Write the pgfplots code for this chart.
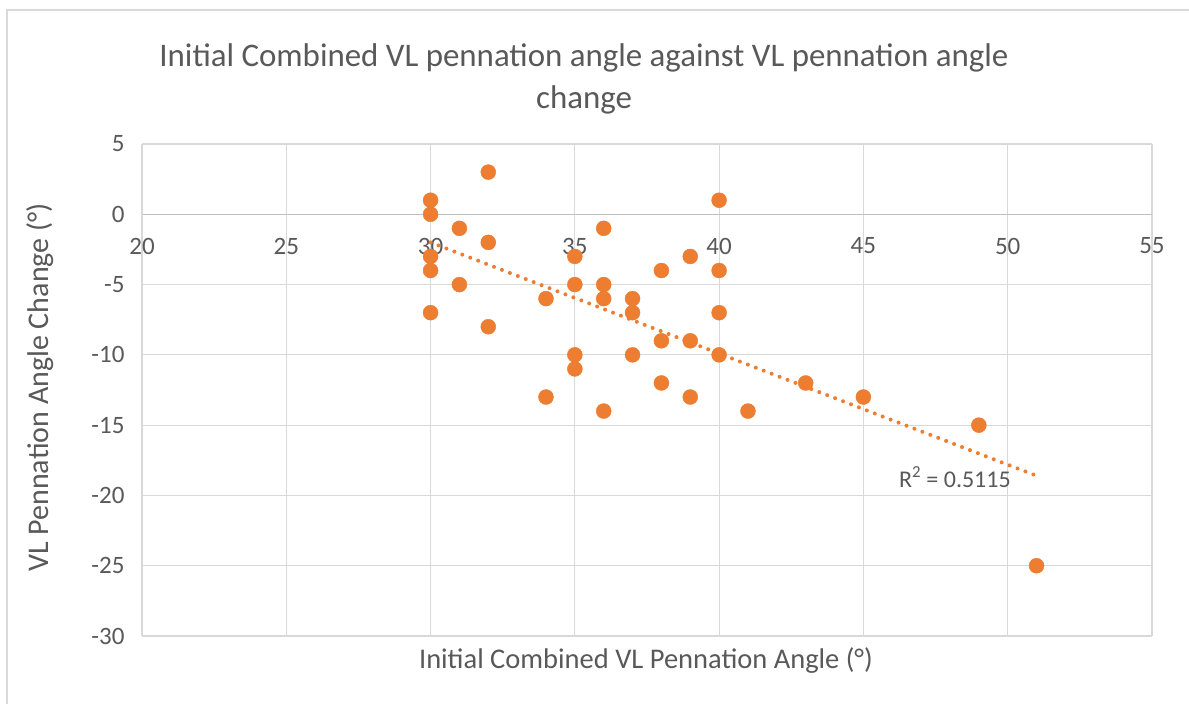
\documentclass[border=0pt]{standalone}
\usepackage{pgfplots}
\pgfplotsset{compat=1.18}
\usepackage{fontspec}
\setmainfont{Carlito}
\definecolor{txt}{HTML}{595959}
\definecolor{grd}{HTML}{D9D9D9}
\definecolor{axl}{HTML}{BFBFBF}
\definecolor{org}{HTML}{ED7D31}
\begin{document}
\begin{tikzpicture}[x=1pt,y=1pt]
\useasboundingbox[fill=white] (0,0) rectangle (1189,704);
\draw[color=grd, line width=1.5pt] (7,0) -- (7,694) -- (1189,694);
\node[text=txt, font=\fontsize{32.9}{42}\selectfont, align=center] at (584,625)
  {Initial Combined VL pennation angle against VL pennation angle\\change};
\node[text=txt, font=\fontsize{28.5}{28.5}\selectfont] at (646,43)
  {Initial Combined VL Pennation Angle (°)};
\node[text=txt, font=\fontsize{30}{30}\selectfont, rotate=90] at (40,316.5)
  {VL Pennation Angle Change (°)};
\begin{axis}[
  at={(142pt,68pt)}, anchor=south west,
  scale only axis, width=1010pt, height=492pt,
  xmin=20, xmax=55, ymin=-30, ymax=5,
  xtick={20,25,30,35,40,45,50,55},
  xticklabels={20,25,30,35,40,45,50,55},
  ytick={-30,-25,-20,-15,-10,-5,0,5},
  yticklabels={-30,-25,-20,-15,-10,-5,0,5},
  axis x line=middle, axis y line=left,
  hide obscured x ticks=false, hide obscured y ticks=false,
  x axis line style={draw=axl, line width=1.2pt, -},
  y axis line style={draw=grd, line width=1.2pt, -},
  grid=major, major grid style={draw=grd, line width=1.2pt},
  major tick length=0pt,
  tick label style={font=\fontsize{25}{25}\selectfont, text=txt},
  xticklabel style={yshift=-20pt},
  yticklabel style={xshift=-14pt},
  clip=false,
]
\addplot[only marks, mark=*, mark size=7.5pt, color=org, mark options={fill=org, draw=none}] coordinates {
(30,1) (30,0) (30,-3) (30,-4) (30,-7)
(31,-1) (31,-5)
(32,3) (32,-2) (32,-8)
(34,-6) (34,-13)
(35,-3) (35,-5) (35,-10) (35,-11)
(36,-1) (36,-5) (36,-6) (36,-14)
(37,-6) (37,-7) (37,-10)
(38,-4) (38,-9) (38,-12)
(39,-3) (39,-9) (39,-13)
(40,1) (40,-4) (40,-7) (40,-10)
(41,-14) (43,-12) (45,-13) (49,-15) (51,-25)
};
\addplot[org, line width=4pt, dash pattern=on 0pt off 8.5pt, line cap=round] coordinates {(30,-2.0) (51,-18.6)};
\node[text=txt, font=\fontsize{24}{24}\selectfont] at (axis cs:48.17,-18.7) {R\textsuperscript{2} = 0.5115};
\end{axis}
\end{tikzpicture}
\end{document}
